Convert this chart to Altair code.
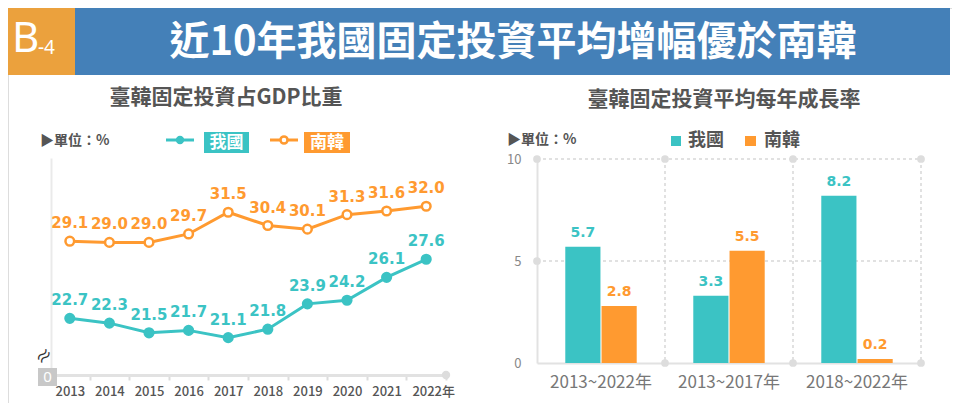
import altair as alt
import pandas as pd

# ---------------- data ----------------
years = ['2013', '2014', '2015', '2016', '2017', '2018', '2019', '2020', '2021', '2022']
tw_share = [22.7, 22.3, 21.5, 21.7, 21.1, 21.8, 23.9, 24.2, 26.1, 27.6]
kr_share = [29.1, 29.0, 29.0, 29.7, 31.5, 30.4, 30.1, 31.3, 31.6, 32.0]
periods = ['2013~2022年', '2013~2017年', '2018~2022年']
tw_growth = [5.7, 3.3, 8.2]
kr_growth = [2.8, 5.5, 0.2]
series = ['我國', '南韓']
grid_values = [0, 5, 10]

TEAL = '#3BC3C4'
ORANGE = '#FF9A30'
HEAD_ORANGE = '#EBA13D'
HEAD_BLUE = '#4480B8'
FONT = 'Noto Sans CJK TC'
NUMFONT = 'DejaVu Sans'
W, H = 944, 395

line_df = pd.DataFrame({'year': years * 2, 'v': tw_share + kr_share,
                        's': [series[0]] * len(years) + [series[1]] * len(years)})
bar_df = pd.DataFrame({'p': periods * 2, 'v': tw_growth + kr_growth,
                       's': [series[0]] * len(periods) + [series[1]] * len(periods)})
one = pd.DataFrame({'a': [0]})

color = alt.Color('s:N', scale=alt.Scale(domain=series, range=[TEAL, ORANGE]), legend=None)


def rect(x, x2, y, y2, c):
    return alt.Chart(one).mark_rect(color=c).encode(
        x=alt.value(x), x2=alt.value(x2), y=alt.value(y), y2=alt.value(y2))


def txt(t, x, y, size, c, weight='normal', align='center', font=FONT, angle=0):
    return alt.Chart(one).mark_text(text=t, fontSize=size, color=c, fontWeight=weight,
                                    align=align, baseline='middle', font=font, angle=angle).encode(
        x=alt.value(x), y=alt.value(y))


# ---------------- header & decorations ----------------
decor = [
    rect(0, 67, 0, 67, HEAD_ORANGE),
    rect(67, 942, 0, 67, HEAD_BLUE),
    txt('B', 4, 31, 42, 'white', align='left', font='Noto Sans'),
    txt('-4', 30, 40, 19, 'white', align='left', font='Noto Sans'),
    txt('近10年我國固定投資平均增幅優於南韓', 505, 35, 40, 'white', weight='bold'),
    # left panel title / unit / legend
    txt('臺韓固定投資占GDP比重', 218, 90, 21, '#555', weight='bold'),
    txt('▶單位：%', 32, 133, 14, '#555', weight='bold', align='left'),
    alt.Chart(one).mark_rule(color=TEAL, strokeWidth=3).encode(
        x=alt.value(158), x2=alt.value(186), y=alt.value(132)),
    alt.Chart(one).mark_point(shape='circle', filled=True, color=TEAL, size=70, opacity=1).encode(
        x=alt.value(172), y=alt.value(132)),
    rect(196, 241, 124, 145, TEAL),
    txt('我國', 218.5, 134.5, 17, 'white', weight='bold'),
    alt.Chart(one).mark_rule(color=ORANGE, strokeWidth=3).encode(
        x=alt.value(262), x2=alt.value(290), y=alt.value(132)),
    alt.Chart(one).mark_point(shape='circle', filled=False, color=ORANGE, fill='white',
                              size=50, strokeWidth=2.5, opacity=1).encode(
        x=alt.value(276), y=alt.value(132)),
    rect(296, 342, 124, 145, ORANGE),
    txt('南韓', 319, 134.5, 17, 'white', weight='bold'),
    # axis break & zero box on the left panel
    txt('≈', 37, 349, 18, '#333', angle=315),
    rect(30, 49, 360, 378, '#C8C8C8'),
    txt('0', 39.5, 369, 15, 'white', font='Noto Sans'),
    alt.Chart(one).mark_point(shape='circle', filled=True, color='#DDDDDD', size=70, opacity=1).encode(
        x=alt.value(438), y=alt.value(367)),
    # right panel title / unit / legend
    txt('臺韓固定投資平均每年成長率', 716, 92, 21, '#555', weight='bold'),
    txt('▶單位：%', 499, 132, 14, '#555', weight='bold', align='left'),
    rect(663, 673, 128, 138, TEAL),
    txt('我國', 680, 133, 18, '#555', weight='bold', align='left'),
    rect(737, 748, 128, 138, ORANGE),
    txt('南韓', 756, 133, 18, '#555', weight='bold', align='left'),
]

# ---------------- left panel: line chart ----------------
xs_l = alt.Scale(type='band', domain=years, range=[42, 438], paddingInner=0, paddingOuter=0)
ys_l = alt.Scale(domain=[18, 36], range=[367, 150], zero=False, nice=False)
ax_xl = alt.Axis(orient='bottom', offset=-28, domainColor='#E2E2E2', domainWidth=3,
                 tickBand='extent', ticks=True, tickColor='#DDDDDD', tickWidth=2, tickSize=5,
                 labelFont=FONT, labelFontSize=13, labelColor='#555', labelFontWeight=500,
                 labelPadding=5, labelAngle=0, title=None,
                 labelExpr="datum.label == '2022' ? '2022年' : datum.label",
                 labelOffset={'condition': {'test': "datum.value == '2022'", 'value': 7}, 'value': 0})
ax_yl = alt.Axis(orient='left', offset=-43, labels=False, ticks=False, grid=False,
                 domainColor='#EAEAEA', domainWidth=2, title=None)

base_l = alt.Chart(line_df).encode(
    x=alt.X('year:N', scale=xs_l, axis=ax_xl, sort=years),
    y=alt.Y('v:Q', scale=ys_l, axis=ax_yl),
    color=color)
left = alt.layer(
    base_l.mark_line(strokeWidth=3),
    base_l.mark_point(shape='circle', size=75, strokeWidth=2.5, opacity=1, filled=False).encode(
        fill=alt.Fill('s:N', scale=alt.Scale(domain=series, range=[TEAL, 'white']), legend=None)),
    base_l.mark_text(dy=-18, fontSize=15, fontWeight='bold', font=NUMFONT).encode(
        text=alt.Text('v:Q', format='.1f')),
)

# ---------------- right panel: grouped bars ----------------
xs_r = alt.Scale(domain=periods, range=[529, 913], paddingInner=0, paddingOuter=0)
ys_r = alt.Scale(domain=[0, 10], range=[355, 151], nice=False)
xo = alt.Scale(domain=series, paddingInner=0.03, paddingOuter=0.78)
ax_xr = alt.Axis(orient='bottom', offset=-40, domainColor='#E2E2E2', domainWidth=2, ticks=False,
                 labelFont=FONT, labelFontSize=17, labelColor='#777', labelPadding=11,
                 labelAngle=0, title=None)
ax_yr = alt.Axis(orient='left', offset=-529, values=grid_values, domainColor='#E2E2E2', domainWidth=2,
                 ticks=False, labelFont=FONT, labelFontSize=13, labelColor='#888', labelPadding=16,
                 grid=False, title=None)

X_R = alt.X('p:N', scale=xs_r, axis=ax_xr, sort=periods)
Y_R = alt.Y('v:Q', scale=ys_r, axis=ax_yr)

grid_df = pd.DataFrame({'v': grid_values[1:]})
vdash_df = pd.DataFrame({'p': periods})
dots_df = pd.DataFrame({'p': periods * 2, 'v': [grid_values[-1]] * 3 + [grid_values[0]] * 3})

right = alt.layer(
    alt.Chart(grid_df).mark_rule(strokeDash=[3, 3], color='#D8D8D8', strokeWidth=1.5).encode(
        y=Y_R, x=alt.value(529), x2=alt.value(913)),
    alt.Chart(vdash_df).mark_rule(strokeDash=[3, 3], color='#D8D8D8', strokeWidth=1.5).encode(
        x=alt.X('p:N', scale=xs_r, axis=ax_xr, sort=periods, bandPosition=1),
        y=alt.value(151), y2=alt.value(355)),
    alt.Chart(dots_df).mark_point(shape='circle', filled=True, color='#DDDDDD', size=60, opacity=1).encode(
        x=alt.X('p:N', scale=xs_r, axis=ax_xr, sort=periods, bandPosition=1), y=Y_R),
    alt.Chart(grid_df).mark_point(shape='circle', filled=True, color='#DDDDDD', size=60, opacity=1).encode(
        x=alt.value(529), y=Y_R),
    alt.Chart(bar_df).mark_bar().encode(
        x=X_R, y=Y_R, xOffset=alt.XOffset('s:N', scale=xo, sort=series), color=color),
    alt.Chart(bar_df).mark_text(dy=-14, fontSize=14, fontWeight='bold', font=NUMFONT).encode(
        x=X_R, y=Y_R, xOffset=alt.XOffset('s:N', scale=xo, sort=series), color=color,
        text=alt.Text('v:Q', format='.1f')),
)

chart = alt.layer(*decor, left, right).resolve_scale(
    x='independent', y='independent'
).properties(
    width=W, height=H, padding=0, autosize=alt.AutoSizeParams(type='none'), background='white'
).configure_view(stroke=None).configure(font=FONT)

chart.save("out.html", embed_options={"renderer": "svg", "actions": False})
